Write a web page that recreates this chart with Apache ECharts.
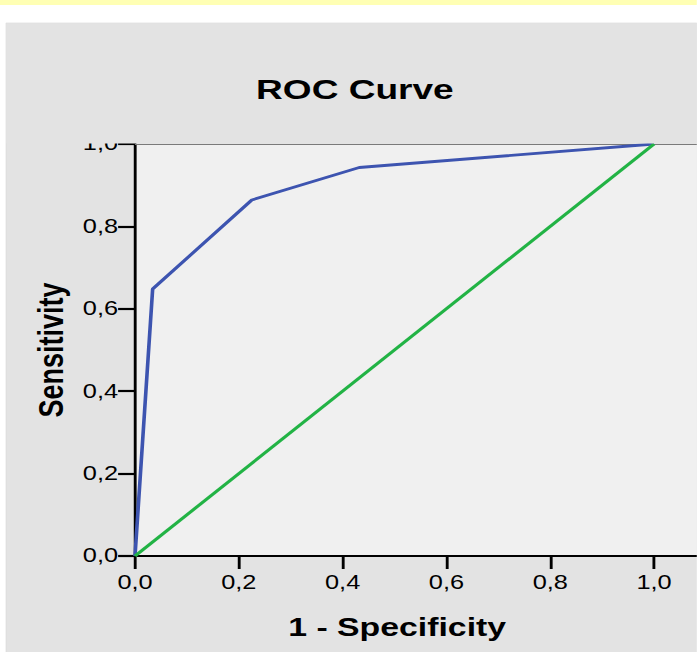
<!DOCTYPE html>
<html>
<head>
<meta charset="utf-8">
<script src="https://cdn.jsdelivr.net/npm/echarts@6/dist/echarts.min.js"></script>
<style>
  html, body { margin: 0; padding: 0; background: #ffffff; overflow: hidden; }
  #wrap { width: 697px; height: 652px; overflow: hidden; position: relative; }
  /* The chart is laid out in a narrower box and widened horizontally,
     giving the stretched look of the exported figure. */
  #chart { width: 536.15px; height: 652px; transform: scaleX(1.3); transform-origin: 0 0; }
</style>
</head>
<body>
<div id="wrap"><div id="chart"></div></div>
<script>
// ROC curve: 1 - specificity (x) against sensitivity (y)
const rocFpr = [0, 0.034, 0.225, 0.432, 1.0];
const rocTpr = [0, 0.648, 0.864, 0.943, 1.0];
// Reference (chance) line
const refX = [0, 1];
const refY = [0, 1];

const chartTitle = 'ROC Curve';
const xName = '1 - Specificity';
const yName = 'Sensitivity';

const fmt = v => (v > 1.0001 ? '' : v.toFixed(1).replace('.', ','));
const pairs = (xs, ys) => xs.map((x, i) => [x, ys[i]]);

const W = 536.15;
const chart = echarts.init(document.getElementById('chart'), null, { renderer: 'svg' });

const labelStyle = { color: '#000', fontFamily: 'Liberation Sans, Arial, sans-serif', fontSize: 19.5 };

chart.setOption({
  animation: false,
  backgroundColor: '#ffffff',
  title: [
    {
      text: chartTitle, left: 268, top: 70, textAlign: 'center', z: 60,
      textStyle: { color: '#000', fontFamily: 'Liberation Sans, Arial, sans-serif', fontWeight: 'bold', fontSize: 28.5 }
    },
    {
      text: xName, left: 300.5, top: 609, textAlign: 'center', z: 60,
      textStyle: { color: '#000', fontFamily: 'Liberation Sans, Arial, sans-serif', fontWeight: 'bold', fontSize: 26 }
    }
  ],
  graphic: [
    // yellow strip along the top edge
    { type: 'rect', z: 0, shape: { x: 0, y: 0, width: W, height: 5 }, style: { fill: '#ffffb4' }, silent: true },
    // grey chart panel
    { type: 'rect', z: -10, shape: { x: 4.6, y: 23, width: W, height: 640 }, style: { fill: '#e3e3e3', stroke: '#d6d6d6', lineWidth: 0.5 }, silent: true },
    // header area of the panel, drawn over the plot top
    { type: 'rect', z: 50, shape: { x: 4.8, y: 23.3, width: W, height: 120.2 }, style: { fill: '#e3e3e3' }, silent: true }
  ],
  grid: {
    left: 103.85, top: 144, width: 439.2, height: 412,
    outerBoundsMode: 'none',
    show: true, backgroundColor: '#f0f0f0', borderWidth: 0
  },
  xAxis: [
    {
      type: 'value', min: 0, max: 1.1, interval: 0.2,
      axisLine: { show: true, onZero: false, lineStyle: { color: '#000', width: 2.2 } },
      axisTick: { show: true, inside: false, length: 13, lineStyle: { color: '#000', width: 2.2 } },
      axisLabel: Object.assign({ margin: 17, formatter: fmt, showMaxLabel: false }, labelStyle),
      splitLine: { show: false }
    },
    {
      type: 'value', position: 'top', min: 0, max: 1.1, interval: 0.2,
      axisLine: { show: true, onZero: false, lineStyle: { color: '#7a7a7a', width: 1 } },
      axisTick: { show: false }, axisLabel: { show: false }, splitLine: { show: false }
    }
  ],
  yAxis: {
    type: 'value', min: 0, max: 1, interval: 0.2,
    name: yName, nameLocation: 'middle', nameGap: 46,
    nameTextStyle: { color: '#000', fontFamily: 'Liberation Sans, Arial, sans-serif', fontWeight: 'bold', fontSize: 27 },
    axisLine: { show: true, onZero: false, lineStyle: { color: '#000', width: 2.2 } },
    axisTick: { show: true, inside: false, length: 13, lineStyle: { color: '#000', width: 2.2 } },
    axisLabel: Object.assign({ margin: 13, formatter: fmt, padding: [6, 0, 0, 0] }, labelStyle),
    splitLine: { show: false }
  },
  series: [
    {
      name: 'ROC', type: 'line', data: pairs(rocFpr, rocTpr),
      showSymbol: false, symbol: 'none', z: 3,
      lineStyle: { color: '#3d54b0', width: 2.8 }
    },
    {
      name: 'Reference', type: 'line', data: pairs(refX, refY),
      showSymbol: false, symbol: 'none', z: 4,
      lineStyle: { color: '#22b345', width: 2.8 }
    }
  ]
});
</script>
</body>
</html>
